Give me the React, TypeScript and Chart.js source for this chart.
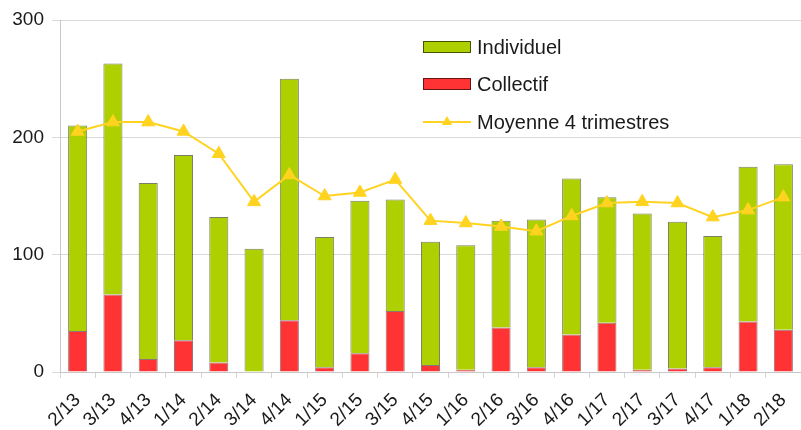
import React, { useEffect, useRef } from "react";
import { Chart, registerables } from "chart.js";

Chart.register(...registerables);

const categories = ["2/13","3/13","4/13","1/14","2/14","3/14","4/14","1/15","2/15","3/15","4/15","1/16","2/16","3/16","4/16","1/17","2/17","3/17","4/17","1/18","2/18"];
const collectif = [35,66,11,27,8,0,44,4,16,52,6,2,38,4,32,42,2,3,4,43,36];
const individuel = [175,197,150,158,124,105,206,111,130,95,105,106,91,126,133,107,133,125,112,132,141];
const moyenne = [205,213,213,205,186,145,168,150,153,164,129,127,124,120,133,144,145,144,132,138,149];
const yTicks = [0, 100, 200, 300];

const GREEN = "#aecf00";
const RED = "#ff3333";
const YELLOW = "#ffd320";
const FONT = '"Liberation Sans", Arial, sans-serif';
const TEXT = "#1a1a1a";

const legendItems = [
  { label: "Individuel", kind: "box", color: GREEN },
  { label: "Collectif", kind: "box", color: RED },
  { label: "Moyenne 4 trimestres", kind: "line", color: YELLOW },
];

const legendPlugin = {
  id: "customLegend",
  afterDraw(chart: any) {
    const ctx = chart.ctx;
    ctx.save();
    const x0 = 423, w = 48, textX = 477;
    const rows = [47, 84, 122];
    ctx.font = "20px " + FONT;
    ctx.textBaseline = "middle";
    ctx.fillStyle = TEXT;
    legendItems.forEach((it, i) => {
      const y = rows[i];
      if (it.kind === "box") {
        ctx.fillStyle = it.color;
        ctx.fillRect(x0, y - 6, w, 12);
        ctx.strokeStyle = "rgba(0,0,0,0.6)";
        ctx.lineWidth = 1;
        ctx.strokeRect(x0 + 0.5, y - 5.5, w - 1, 11);
      } else {
        ctx.strokeStyle = it.color;
        ctx.lineWidth = 2;
        ctx.beginPath();
        ctx.moveTo(x0, y);
        ctx.lineTo(x0 + w, y);
        ctx.stroke();
        const cx = x0 + w / 2, r = 6;
        ctx.fillStyle = it.color;
        ctx.beginPath();
        ctx.moveTo(cx, y - r);
        ctx.lineTo(cx + r * 0.866, y + r * 0.5);
        ctx.lineTo(cx - r * 0.866, y + r * 0.5);
        ctx.closePath();
        ctx.fill();
      }
      ctx.fillStyle = TEXT;
      ctx.fillText(it.label, textX, y + 1);
    });
    ctx.restore();
  },
};

export default function App() {
  const ref = useRef<HTMLCanvasElement | null>(null);
  useEffect(() => {
    if (!ref.current) return;
    const chart = new Chart(ref.current, {
      type: "bar",
      data: {
        labels: categories,
        datasets: [
          {
            type: "line",
            label: "Moyenne 4 trimestres",
            data: moyenne,
            borderColor: YELLOW,
            backgroundColor: YELLOW,
            borderWidth: 2,
            pointStyle: "triangle",
            pointRadius: 7.5,
            pointBorderWidth: 1,
            pointBackgroundColor: YELLOW,
            pointBorderColor: YELLOW,
            tension: 0,
            order: 0,
          } as any,
          {
            label: "Collectif",
            data: collectif,
            backgroundColor: RED,
            borderColor: "rgba(60,0,0,0.55)",
            borderWidth: 1,
            order: 1,
            categoryPercentage: 1,
            barPercentage: 0.54,
          },
          {
            label: "Individuel",
            data: individuel,
            backgroundColor: GREEN,
            borderColor: "rgba(40,40,0,0.6)",
            borderWidth: 1,
            order: 2,
            categoryPercentage: 1,
            barPercentage: 0.54,
          },
        ],
      },
      options: {
        animation: false,
        responsive: true,
        maintainAspectRatio: false,
        layout: { autoPadding: false, padding: { top: 20, right: 0, left: 0, bottom: 0 } },
        plugins: {
          legend: { display: false },
          tooltip: { enabled: false },
        },
        scales: {
          x: {
            stacked: true,
            grid: {
              offset: true,
              drawOnChartArea: false,
              drawTicks: true,
              tickLength: 6,
              color: "#d4d4d4",
            },
            border: { color: "#c8c8c8" },
            ticks: {
              autoSkip: false,
              minRotation: 45,
              maxRotation: 45,
              color: TEXT,
              font: { family: FONT, size: 19 },
              padding: 11,
            },
            afterFit(scale: any) {
              scale.height = 58;
              scale.paddingLeft = 0;
              scale.paddingRight = 0;
            },
          },
          y: {
            stacked: true,
            min: 0,
            max: 300,
            afterBuildTicks(scale: any) {
              scale.ticks = yTicks.map((v) => ({ value: v }));
            },
            grid: {
              color: "#d9d9d9",
              drawTicks: true,
              tickLength: 8,
            },
            border: { color: "#c8c8c8" },
            ticks: {
              color: TEXT,
              font: { family: FONT, size: 19 },
              padding: 8,
            },
            afterFit(scale: any) {
              scale.width = 60;
            },
          },
        },
      },
      plugins: [legendPlugin],
    });
    return () => chart.destroy();
  }, []);
  return (
    <div style={{ position: "fixed", left: 0, top: 0, width: 801, height: 430, background: "#fff" }}>
      <canvas ref={ref} />
    </div>
  );
}
